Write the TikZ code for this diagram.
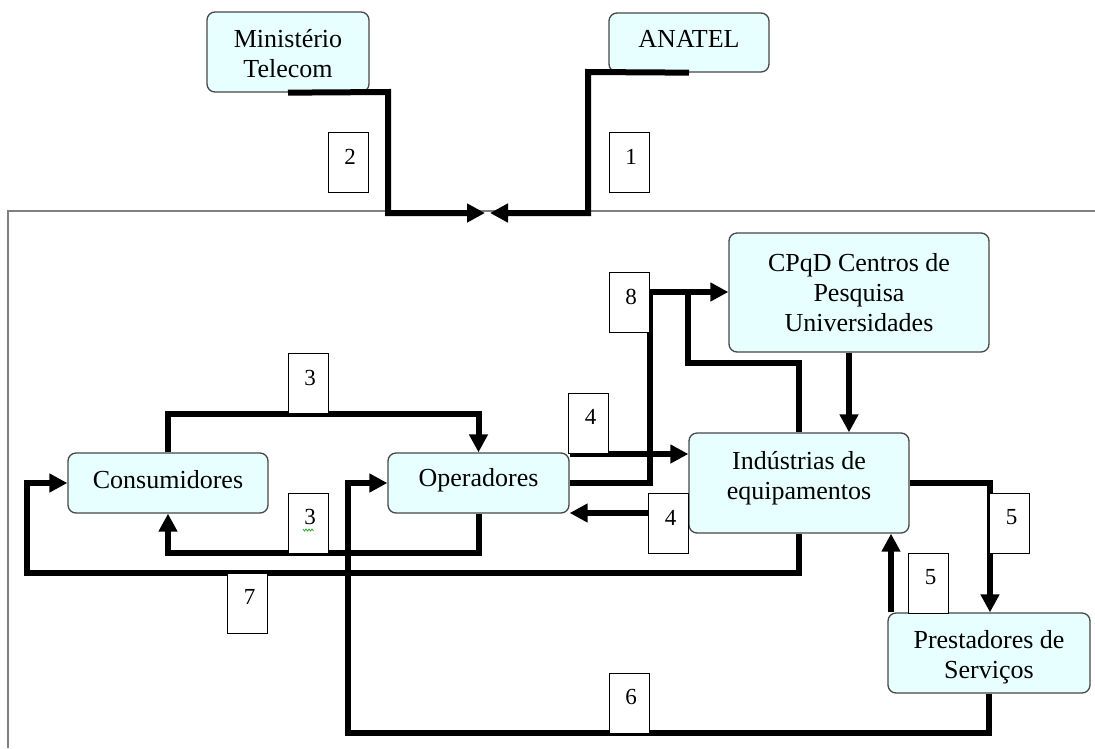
\documentclass[tikz,border=0pt]{standalone}
\usepackage{fontspec}
\setmainfont{Liberation Serif}
\usetikzlibrary{arrows.meta}
\pgfdeclarelayer{boxes}
\pgfdeclarelayer{lines}
\pgfsetlayers{boxes,lines,main}
\definecolor{boxfill}{RGB}{232,255,255}
\definecolor{boxedge}{RGB}{70,70,70}
\definecolor{rulegray}{RGB}{128,128,128}
\definecolor{squig}{RGB}{40,170,40}
\newcommand\tagbox[3]{%
  \node[tag] (#1) at (#2) {};
  \node[num] (#1t) at ([shift={(2pt,6pt)}]#1.center) {#3};}
% name, centre, width, height, text shift (pt, up positive), text
\newcommand\entity[6]{%
  \node[ent, minimum width=#3pt, minimum height=#4pt] (#1) at (#2) {};
  \node[enttext] (#1txt) at ([yshift=#5pt]#1.center) {#6};}
\begin{document}
\begin{tikzpicture}[x=1pt,y=-1pt,
  ent/.style={draw=boxedge, line width=1.3pt, fill=boxfill, rounded corners=8pt, inner sep=0pt},
  enttext/.style={align=center, inner sep=0pt, font=\fontsize{26}{30}\selectfont},
  tag/.style={draw=black, line width=1pt, fill=white, inner sep=0pt,
    minimum width=40pt, minimum height=60pt},
  num/.style={font=\fontsize{23}{26}\selectfont, inner sep=0pt},
  conn/.style={line width=6pt},
  arr/.style={conn, -{Triangle[length=18pt,width=18pt]}},
  sep/.style={draw=rulegray, line width=1.5pt}]

\useasboundingbox (0,0) rectangle (1095,748);

% entity boxes
\begin{pgfonlayer}{boxes}
\entity{mini}{288,52}{162}{80}{-2}{Ministério\\Telecom}
\entity{anatel}{689,42.5}{160}{59}{4}{ANATEL}
\entity{cpqd}{859,292.5}{260}{119}{0}{CPqD Centros de\\Pesquisa\\Universidades}
\entity{cons}{168,483}{200}{60}{3}{Consumidores}
\entity{oper}{478.5,483}{181}{60}{3}{Operadores}
\entity{ind}{799,483}{220}{100}{5}{Indústrias de\\equipamentos}
\entity{prest}{989,653}{202}{80}{-4}{Prestadores de\\Serviços}
\end{pgfonlayer}

% number tags
\tagbox{l2}{348,162.5}{2}
\tagbox{l1}{629,162.5}{1}
\tagbox{l8}{629,302.5}{8}
\tagbox{l3a}{308,383.5}{3}
\tagbox{l3b}{308,523}{3}
\tagbox{l4a}{588.5,423}{4}
\tagbox{l4b}{668.5,523.5}{4}
\tagbox{l7}{247.5,603}{7}
\tagbox{l6}{629,703}{6}
\tagbox{l5a}{1009.5,523}{5}
\tagbox{l5b}{928.5,583}{5}
\draw[squig, line width=0.8pt] (303,529) -- (304.5,531) -- (306,529) -- (307.5,531) -- (309,529) -- (310.5,531) -- (312,529) -- (313.5,531);

\coordinate (meetL) at (485,213);
\coordinate (meetR) at (490,213);

\begin{pgfonlayer}{lines}
\draw[sep] (8,748) -- (8,211) -- (1095,211);
% 2 and 1
\draw[arr] (mini.south) -- (388,92) -- (388,213) -- (meetL);
\draw[arr] (anatel.south) -- (588,72) -- (588,213) -- (meetR);
% 3
\draw[arr] (cons.north) -- (168,414) -| (oper.north);
\draw[arr] (oper.south) -- (478.5,553) -| (cons.south);
% 7
\draw[arr] (ind.south) -- (799,573) -- (27,573) |- (cons.west);
% 6
\draw[arr] (prest.south) -- (989,733) -- (348,733) |- (oper.west);
% 4
\draw[arr] (oper.east |- 0,454) -- (ind.west |- 0,454);
\draw[arr] (ind.west |- 0,513) -- (oper.east |- 0,513);
% 8
\draw[arr] (oper.east) -- (650,483) -- (650,292) -- (cpqd.west |- 0,292);
\draw[conn] (ind.north) -- (799,363) -- (688,363) -- (688,292);
\draw[arr] (cpqd.south -| 849,0) -- (ind.north -| 849,0);
% 5
\draw[arr] (ind.east) -- (990,483) -- (prest.north -| 990,0);
\draw[arr] (prest.north -| 891,0) -- (ind.south -| 891,0);
\end{pgfonlayer}
\end{tikzpicture}
\end{document}
